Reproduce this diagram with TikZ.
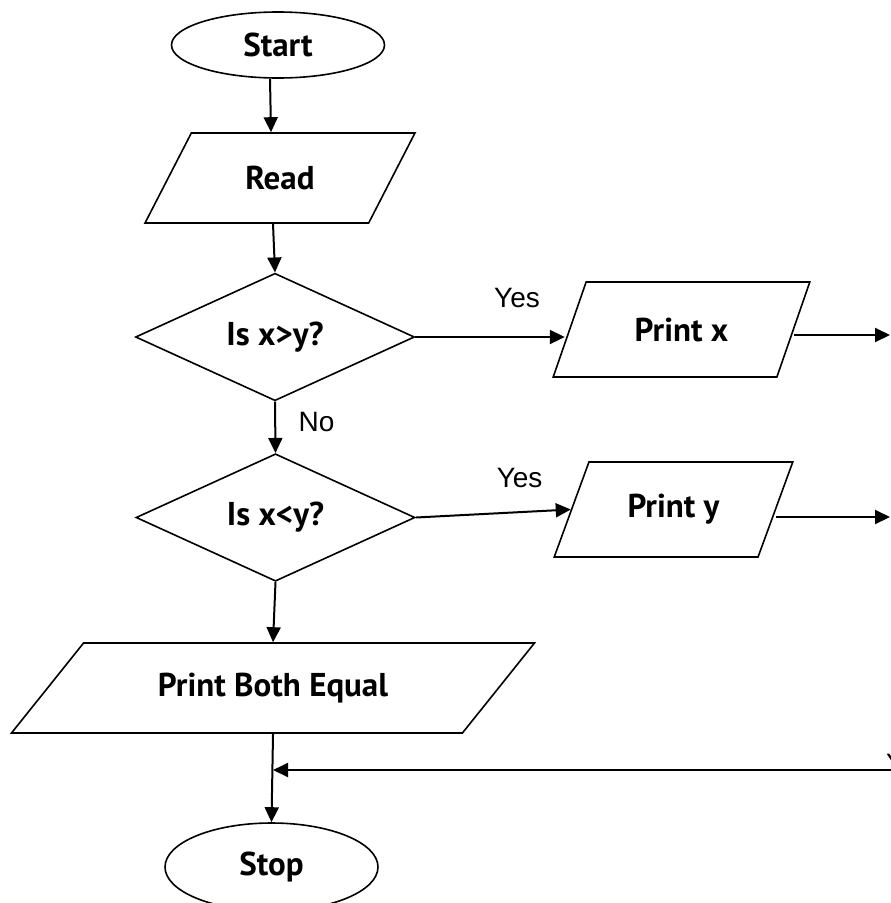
\documentclass[tikz,border=0pt]{standalone}
\usepackage{fontspec}
\setmainfont{Liberation Sans}
\newfontfamily\boxfont{PT Sans}
\usetikzlibrary{shapes.geometric,arrows.meta}

\tikzset{
    term/.style={draw,ellipse,line width=1.6pt,minimum width=213pt,inner sep=0pt,
        font=\boxfont\bfseries\fontsize{33}{38}\selectfont},
    io/.style={draw,trapezium,trapezium stretches=true,line width=1.6pt,inner sep=0pt,
        font=\boxfont\bfseries\fontsize{33}{38}\selectfont},
    decide/.style={draw,diamond,line width=1.6pt,minimum width=279pt,minimum height=110pt,
        inner sep=0pt,font=\boxfont\bfseries\fontsize{33}{38}\selectfont},
    flow/.style={line width=2pt,-{Triangle[length=15pt,width=14pt]}},
    lbl/.style={font=\fontsize{28}{30}\selectfont}
}

\begin{document}
\begin{tikzpicture}[x=1pt,y=-1pt]

        \fill[white] (0,0) rectangle (891,903);
        \useasboundingbox (0,0) rectangle (891,903);

        \node[term,minimum height=66pt] (start) at (278,45) {Start};
        \node[io,minimum width=270pt,minimum height=90pt,
            trapezium left angle=52.9,trapezium right angle=127.1] (read) at (280,178) {Read};
        \node[decide] (gt) at (275,337) {Is x>y?};
        \node[decide] (lt) at (275.5,517.5) {Is x<y?};
        \node[io,minimum width=257pt,minimum height=95pt,
            trapezium left angle=56,trapezium right angle=124] (printx) at (681.5,329.5) {Print x};
        \node[io,minimum width=239pt,minimum height=95pt,
            trapezium left angle=58,trapezium right angle=122] (printy) at (673.5,509.5) {Print y};
        \node[io,minimum width=524pt,minimum height=90pt,
            trapezium left angle=34.5,trapezium right angle=145.5] (both) at (273,688) {Print Both Equal};
        \node[term,minimum height=88pt] (stop) at (271.5,867) {Stop};

        \coordinate (outx) at (890,335);
        \coordinate (outy) at (890,517);
        \coordinate (back) at (900,770);

        \draw[flow] ([xshift=-8pt]start.south) -- ([xshift=-9pt]read.north);
        \draw[flow] ([xshift=-7pt]read.south) -- (gt.north);
        \draw[flow] (gt.south) -- (lt.north) node[lbl,pos=0.4,right=19pt] {No};
        \draw[flow] (gt.east) -- ([xshift=-4pt]gt.east -| printx.west) node[lbl,pos=0.68,above=25pt] {Yes};
        \draw[flow] (lt.east) -- (printy.west) node[lbl,pos=0.67,above=20pt] {Yes};
        \draw[flow] (lt.south) -- (both.north);
        \draw[flow] (both.south) -- (stop.north);
        \draw[flow] (outx -| printx.east) -- (outx);
        \draw[flow] (outy -| printy.east) -- (outy);
        \draw[flow] (back) -- (back -| both.south);

        \node[lbl,anchor=north west,inner sep=0pt] (yesback) at (886,754) {Yes};
    \end{tikzpicture}
\end{document}
